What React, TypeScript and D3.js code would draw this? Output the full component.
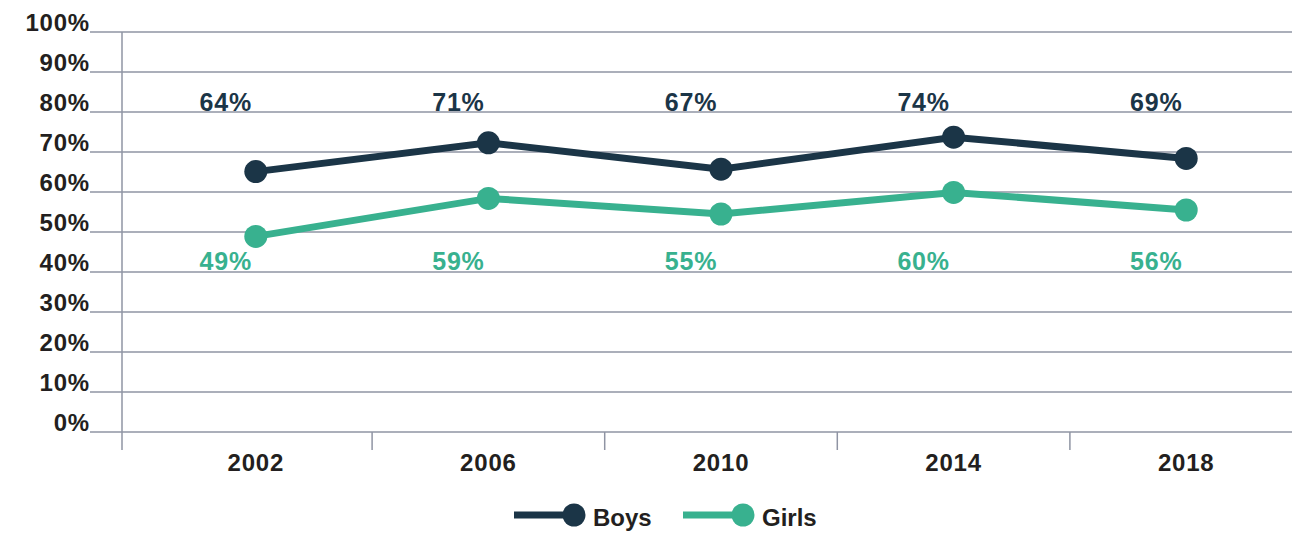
import * as d3 from "d3";
import { useEffect, useRef } from "react";

const years = ["2002", "2006", "2010", "2014", "2018"];
const boys = [65.1, 72.3, 65.7, 73.7, 68.4];
const girls = [48.9, 58.4, 54.5, 59.9, 55.5];
const boysLabels = ["64%", "71%", "67%", "74%", "69%"];
const girlsLabels = ["49%", "59%", "55%", "60%", "56%"];
const yTicks = [0, 10, 20, 30, 40, 50, 60, 70, 80, 90, 100];

const BOYS = "#1b3547";
const GIRLS = "#38b18f";
const GRID = "#8f94a3";
const TEXT = "#231f20";
const FONT = "'Liberation Sans', Arial, Helvetica, sans-serif";

export default function App() {
  const svgRef = useRef(null);

  useEffect(() => {
    document.body.style.margin = "0";
    const w = 1292;
    const h = 534;
    const svg = d3.select(svgRef.current).attr("width", w).attr("height", h);
    svg.selectAll("*").remove();

    const y = d3.scaleLinear().domain([0, 100]).range([432, 32]);
    const x = d3.scaleBand().domain(years).range([139.5, 1302.5]).padding(0);
    const cx = (d) => x(d) + x.bandwidth() / 2;

    // gridlines + y labels
    svg
      .append("g")
      .selectAll("line")
      .data(yTicks)
      .enter()
      .append("line")
      .attr("x1", 90)
      .attr("x2", 1292)
      .attr("y1", (d) => y(d))
      .attr("y2", (d) => y(d))
      .attr("stroke", GRID)
      .attr("stroke-width", 1.5);

    svg
      .append("g")
      .selectAll("text")
      .data(yTicks)
      .enter()
      .append("text")
      .attr("x", 90)
      .attr("y", (d) => y(d) - 1)
      .attr("text-anchor", "end")
      .attr("font-family", FONT)
      .attr("font-weight", "bold")
      .attr("font-size", 24)
      .attr("letter-spacing", 0.8)
      .attr("fill", TEXT)
      .text((d) => d + "%");

    // y axis line and x ticks
    svg
      .append("line")
      .attr("x1", 122)
      .attr("x2", 122)
      .attr("y1", y(100))
      .attr("y2", 450)
      .attr("stroke", GRID)
      .attr("stroke-width", 1.5);

    svg
      .append("g")
      .selectAll("line")
      .data(years.slice(1))
      .enter()
      .append("line")
      .attr("x1", (d) => x(d))
      .attr("x2", (d) => x(d))
      .attr("y1", y(0))
      .attr("y2", 450)
      .attr("stroke", GRID)
      .attr("stroke-width", 1.5);

    svg
      .append("g")
      .selectAll("text")
      .data(years)
      .enter()
      .append("text")
      .attr("x", (d) => cx(d))
      .attr("y", 471)
      .attr("text-anchor", "middle")
      .attr("font-family", FONT)
      .attr("font-weight", "bold")
      .attr("font-size", 24)
      .attr("letter-spacing", 0.8)
      .attr("fill", TEXT)
      .text((d) => d);

    const line = d3
      .line()
      .x((d, i) => cx(years[i]))
      .y((d) => y(d));

    const series = [
      { vals: boys, labels: boysLabels, color: BOYS, ly: y(80) - 1 },
      { vals: girls, labels: girlsLabels, color: GIRLS, ly: y(40) - 2 },
    ];

    series.forEach((s) => {
      svg
        .append("path")
        .datum(s.vals)
        .attr("d", line)
        .attr("fill", "none")
        .attr("stroke", s.color)
        .attr("stroke-width", 7);

      svg
        .append("g")
        .selectAll("circle")
        .data(s.vals)
        .enter()
        .append("circle")
        .attr("cx", (d, i) => cx(years[i]))
        .attr("cy", (d) => y(d))
        .attr("r", 11.5)
        .attr("fill", s.color);

      svg
        .append("g")
        .selectAll("text")
        .data(s.labels)
        .enter()
        .append("text")
        .attr("x", (d, i) => cx(years[i]) - 30)
        .attr("y", s.ly)
        .attr("text-anchor", "middle")
        .attr("font-family", FONT)
        .attr("font-weight", "bold")
        .attr("font-size", 25)
        .attr("letter-spacing", 0.8)
        .attr("fill", s.color)
        .text((d) => d);
    });

    // legend
    const legend = [
      { name: "Boys", color: BOYS, x0: 514 },
      { name: "Girls", color: GIRLS, x0: 683 },
    ];
    const lg = svg.append("g");
    legend.forEach((l) => {
      lg.append("line")
        .attr("x1", l.x0)
        .attr("x2", l.x0 + 60)
        .attr("y1", 515)
        .attr("y2", 515)
        .attr("stroke", l.color)
        .attr("stroke-width", 7);
      lg.append("circle")
        .attr("cx", l.x0 + 60)
        .attr("cy", 515)
        .attr("r", 11.5)
        .attr("fill", l.color);
      lg.append("text")
        .attr("x", l.x0 + 79)
        .attr("y", 526)
        .attr("font-family", FONT)
        .attr("font-weight", "bold")
        .attr("font-size", 24)
        .attr("fill", TEXT)
        .text(l.name);
    });
  }, []);

  return <svg ref={svgRef} style={{ display: "block" }}></svg>;
}
